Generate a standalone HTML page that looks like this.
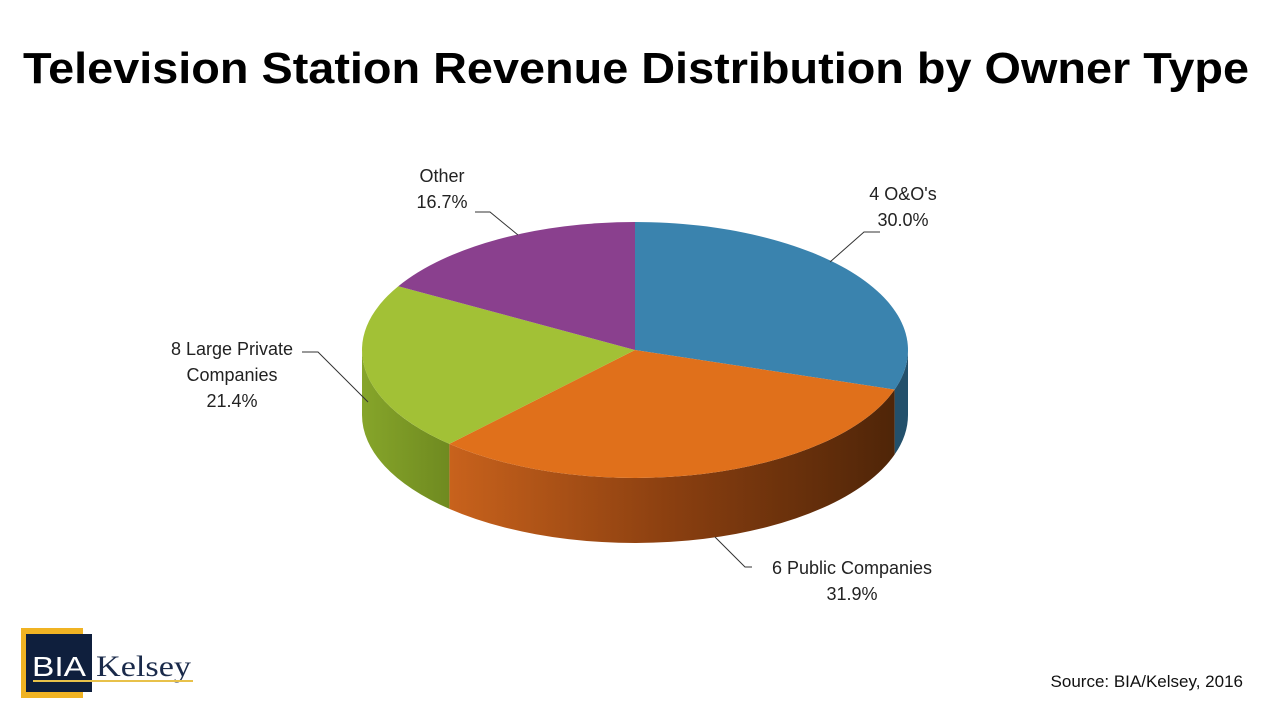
<!DOCTYPE html>
<html><head><meta charset="utf-8"><style>
body{margin:0;background:#fff;}
svg{display:block;font-family:"Liberation Sans",sans-serif;}
</style></head><body>
<svg id="chart" width="1280" height="720" viewBox="0 0 1280 720">
<defs>
<linearGradient id="gPub" x1="0" x2="1" y1="0" y2="0"><stop offset="0" stop-color="#c8621c"/><stop offset="0.5" stop-color="#8a3f10"/><stop offset="1" stop-color="#4f2508"/></linearGradient>
<linearGradient id="gGreen" x1="0" x2="1"><stop offset="0" stop-color="#86a52a"/><stop offset="1" stop-color="#6f8a20"/></linearGradient>
</defs>
<text x="636" y="83" text-anchor="middle" font-size="44" font-weight="bold" fill="#000" textLength="1226" lengthAdjust="spacingAndGlyphs">Television Station Revenue Distribution by Owner Type</text>
<g id="pie"></g>
<g id="labels" font-size="18" fill="#222" stroke="none"></g>
<text x="1243" y="687" text-anchor="end" font-size="17" fill="#111">Source: BIA/Kelsey, 2016</text>
<g>
<rect x="21" y="628" width="62" height="70" fill="#f0b323"/>
<rect x="26" y="634" width="66" height="58" fill="#0f1f3d"/>
<text x="59" y="676" text-anchor="middle" font-size="28" fill="#fff" textLength="54" lengthAdjust="spacingAndGlyphs">BIA</text>
<text x="96" y="676" font-size="30" font-family="Liberation Serif,serif" fill="#1a2a4a" textLength="95" lengthAdjust="spacingAndGlyphs">Kelsey</text>
<rect x="33" y="680" width="160" height="2" fill="#e8c14a"/>
</g>
</svg>
<script>
const categories=["4 O&O's","6 Public Companies","8 Large Private Companies","Other"];
const values=[30.0,31.9,21.4,16.7];
const valueLabels=["30.0%","31.9%","21.4%","16.7%"];
const colors=["#3a83ae","#e0701b","#a2c136","#8a408e"];
const sideColors=["#23506b","url(#gPub)","url(#gGreen)","#55285a"];
const cx=635,cy=350,rx=273,ry=128,depth=65;
const NS="http://www.w3.org/2000/svg";
function P(t,dy){const r=t*Math.PI/180;return [cx+rx*Math.sin(r),cy-ry*Math.cos(r)+(dy||0)];}
const pie=document.getElementById('pie');
const total=values.reduce((a,b)=>a+b,0);
let acc=0;const angles=values.map(v=>{const a=acc;acc+=v;return [a/total*360,acc/total*360];});
angles.forEach(([a,b],i)=>{
  const s=Math.max(a,90),e=Math.min(b,270);
  if(e<=s)return;
  const p1=P(s),p2=P(e),p3=P(e,depth),p4=P(s,depth);
  const lg=(e-s)>180?1:0;
  const d=`M${p1}A${rx},${ry} 0 ${lg} 1 ${p2}L${p3}A${rx},${ry} 0 ${lg} 0 ${p4}Z`;
  const el=document.createElementNS(NS,'path');el.setAttribute('d',d);el.setAttribute('fill',sideColors[i]);
  
  
  pie.appendChild(el);
});
angles.forEach(([a,b],i)=>{
  const p1=P(a),p2=P(b);const lg=(b-a)>180?1:0;
  const d=`M${cx},${cy}L${p1}A${rx},${ry} 0 ${lg} 1 ${p2}Z`;
  const el=document.createElementNS(NS,'path');el.setAttribute('d',d);el.setAttribute('fill',colors[i]);
  
  
  pie.appendChild(el);
});
const lab=document.getElementById('labels');
const specs=[
 {line:[[830,262],[864,232],[880,232]],lines:["4 O&O's","30.0%"],x:903,y:200,anchor:"middle"},
 {line:[[715,537],[745,567],[752,567]],lines:["6 Public Companies","31.9%"],x:852,y:574,anchor:"middle"},
 {line:[[368,402],[318,352],[302,352]],lines:["8 Large Private","Companies","21.4%"],x:232,y:355,anchor:"middle"},
 {line:[[518,235],[490,212],[475,212]],lines:["Other","16.7%"],x:442,y:182,anchor:"middle"}
];
specs.forEach((s,i)=>{
  const pl=document.createElementNS(NS,'polyline');pl.setAttribute('points',s.line.map(p=>p.join(',')).join(' '));
  pl.setAttribute('fill','none');pl.setAttribute('stroke','#333');pl.setAttribute('stroke-width','1');
  
  
  lab.appendChild(pl);
  const txt=document.createElementNS(NS,'text');txt.setAttribute('text-anchor',s.anchor);
  
  
  const lines=s.lines.slice(0,-1).concat([valueLabels[i]]);
  lines.forEach((l,j)=>{const ts=document.createElementNS(NS,'tspan');ts.setAttribute('x',s.x);ts.setAttribute('y',s.y+j*26);ts.textContent=l;txt.appendChild(ts);});
  lab.appendChild(txt);
});
</script>
</body></html>
